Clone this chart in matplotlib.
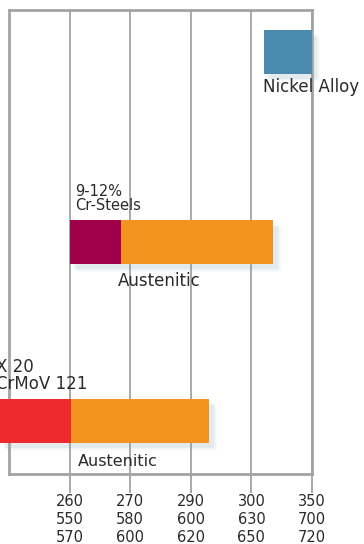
import matplotlib.pyplot as plt

# x positions are the tick slots (1..5), y are the row centres
tick_labels = ["260\n550\n570", "270\n580\n600", "290\n600\n620", "300\n630\n650", "350\n700\n720"]
tick_pos = [1, 2, 3, 4, 5]

rows = ["Nickel Alloy", "9-12%\nCr-Steels", "X 20\nCrMoV 121"]
row_y = [9.1, 5.0, 1.15]

# first segment (ferritic / nickel) and second segment (austenitic)
seg1_start = [4.2, 1.0, -0.15]
seg1_end = [5.0, 1.85, 1.02]
seg1_colors = ["#4a8aae", "#a0004a", "#ee2a2e"]
seg2_start = [None, 1.85, 1.02]
seg2_end = [None, 4.36, 3.3]
seg2_label = [None, "Austenitic", "Austenitic"]
orange = "#f39320"

bar_h = 0.95
grey = "#a3a3a3"
text_c = "#2a2a2a"

fig = plt.figure(figsize=(3.64, 5.44), dpi=100)
ax = fig.add_axes([9 / 364, 70 / 544, 303 / 364, 464 / 544])
ax.set_xlim(0, 5)
ax.set_ylim(0, 10)

for i in range(len(rows)):
    y = row_y[i]
    end = seg2_end[i] if seg2_end[i] is not None else seg1_end[i]
    # soft drop shadow
    for k, a in enumerate([0.10, 0.07, 0.04]):
        d = 0.03 * (k + 1)
        ax.barh(y - 0.08 - d, end - seg1_start[i] + 0.02, left=seg1_start[i] + 0.03 + d,
                height=bar_h, color="#7f9fb0", alpha=a, linewidth=0, zorder=2, clip_on=False)
    ax.barh(y, seg1_end[i] - seg1_start[i], left=seg1_start[i], height=bar_h,
            color=seg1_colors[i], linewidth=0, zorder=3, clip_on=False)
    if seg2_start[i] is not None:
        ax.barh(y, seg2_end[i] - seg2_start[i], left=seg2_start[i], height=bar_h,
                color=orange, linewidth=0, zorder=3, clip_on=False)

# labels
ax.text(4.19, 8.34, rows[0], ha="left", va="center", fontsize=12, color=text_c, clip_on=False)
ax.text(1.09, 5.62, rows[1], ha="left", va="bottom", fontsize=10.5, color=text_c,
        linespacing=0.95)
ax.text(-0.22, 1.75, rows[2], ha="left", va="bottom", fontsize=12, color=text_c,
        linespacing=0.9, clip_on=False)
ax.text(1.80, 4.16, seg2_label[1], ha="left", va="center", fontsize=12, color=text_c)
ax.text(1.14, 0.26, seg2_label[2], ha="left", va="center", fontsize=11.5, color=text_c)

ax.set_xticks(tick_pos, labels=tick_labels)
ax.set_yticks([])
ax.tick_params(axis="x", length=14, width=1.3, color=grey, pad=0.5,
               labelsize=10.5, labelcolor=text_c)
for lab in ax.get_xticklabels():
    lab.set_linespacing(1.23)
ax.grid(axis="x", color=grey, linewidth=1.3, zorder=1)
ax.set_axisbelow(True)
for side in ["left", "right", "top", "bottom"]:
    ax.spines[side].set_color(grey)
    ax.spines[side].set_linewidth(2)

fig.savefig("out.png", dpi=100)
